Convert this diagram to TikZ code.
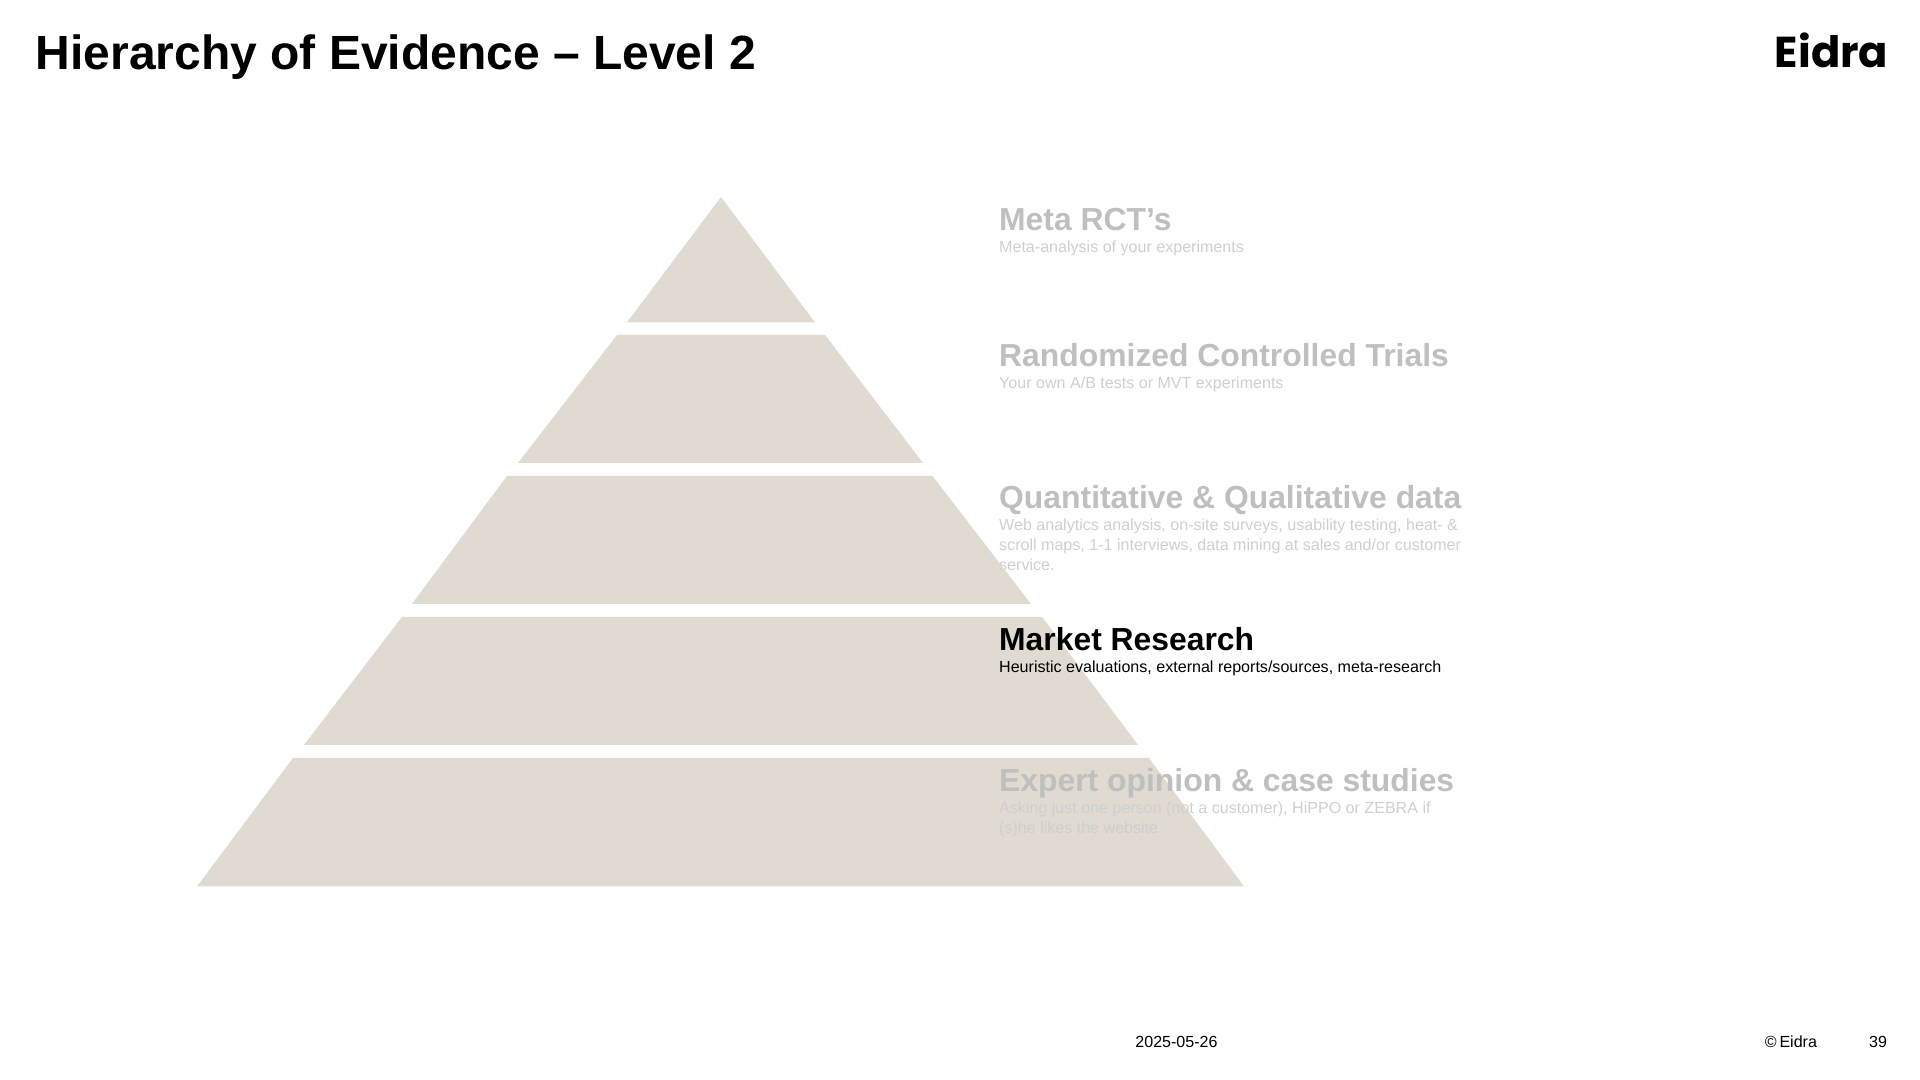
\documentclass[tikz,border=0pt]{standalone}
\usepackage{fontspec}
\setmainfont{Liberation Sans}
\newfontfamily\logofont{Poppins}
\usetikzlibrary{positioning}
\definecolor{tierbeige}{HTML}{E0DAD0}
\definecolor{fadedhead}{HTML}{BFBFBF}
\definecolor{fadedtext}{HTML}{CFCFCF}

\begin{document}
\begin{tikzpicture}[x=0.01cm,y=-0.01cm]

\tikzset{
tierheading/.style={
anchor=base west,
inner sep=0pt,
font=\bfseries\fontsize{9.06}{11}\selectfont
},
tiernote/.style={
anchor=north west,
inner sep=0pt,
align=left,
font=\fontsize{4.57}{5.57}\selectfont
},
footnote/.style={
anchor=base,
inner sep=0pt,
font=\fontsize{4.57}{5.5}\selectfont
}
}

\useasboundingbox (0,0) rectangle (1920,1080);

%--------------------------------------------------
% PYRAMID
%--------------------------------------------------

\fill[tierbeige] (721,197) -- (815,322.5) -- (627,322.5) -- cycle;
\fill[tierbeige] (617,335) -- (825,335) -- (923,463) -- (518,463) -- cycle;
\fill[tierbeige] (507,476) -- (932.5,476) -- (1031,604) -- (412,604) -- cycle;
\fill[tierbeige] (402,617) -- (1042,617) -- (1138,745) -- (304,745) -- cycle;
\fill[tierbeige] (293,758) -- (1149,758) -- (1244,886.5) -- (197,886.5) -- cycle;

%--------------------------------------------------
% TITLE
%--------------------------------------------------

\node[anchor=base west,inner sep=0pt,font=\bfseries\fontsize{13.65}{16}\selectfont]
(title) at (35,70) {Hierarchy of Evidence -- Level 2};

\node[anchor=base east,inner sep=0pt,font=\logofont\bfseries\fontsize{12.3}{14}\selectfont]
(logo) at (1889,68) {Eidra};

%--------------------------------------------------
% TIERS
%--------------------------------------------------

\node[tierheading,text=fadedhead] (metahead) at (998.5,231) {Meta RCT’s};
\node[tiernote,text=fadedtext] (metanote) at (998.5,240.5)
{Meta-analysis of your experiments};

\node[tierheading,text=fadedhead] (rcthead) at (998.5,367) {Randomized Controlled Trials};
\node[tiernote,text=fadedtext] (rctnote) at (998.5,376.5)
{Your own A/B tests or MVT experiments};

\node[tierheading,text=fadedhead] (datahead) at (998.5,508.5) {Quantitative \& Qualitative data};
\node[tiernote,text=fadedtext] (datanote) at (998.5,518.5)
{Web analytics analysis, on-site surveys, usability testing, heat- \&\\
scroll maps, 1-1 interviews, data mining at sales and/or customer\\
service.};

\node[tierheading,text=black] (markethead) at (998.5,651) {Market Research};
\node[tiernote,text=black] (marketnote) at (998.5,660.5)
{Heuristic evaluations, external reports/sources, meta-research};

\node[tierheading,text=fadedhead] (experthead) at (998.5,792) {Expert opinion \& case studies};
\node[tiernote,text=fadedtext] (expertnote) at (998.5,801.5)
{Asking just one person (not a customer), HiPPO or ZEBRA if\\
(s)he likes the website.};

%--------------------------------------------------
% FOOTER
%--------------------------------------------------

\node[footnote] (date) at (1176.5,1047.5) {2025-05-26};
\node[footnote] (owner) at (1791,1047.5) {©\,Eidra};
\node[footnote] (page) at (1878,1047.5) {39};

\end{tikzpicture}
\end{document}
